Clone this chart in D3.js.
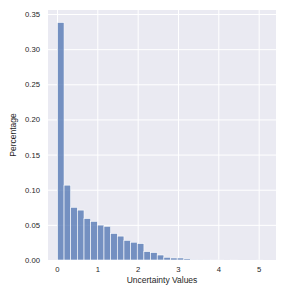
<!DOCTYPE html>
<html lang="en">
<head>
  <meta charset="UTF-8">
  <title></title>
  <style>
    body { margin: 0; background: #fff; }
    svg { display: block; font-family: "Liberation Sans", Arial, sans-serif; }
    .tick text { fill: #262626; font-size: 7.7px; }
    .grid line { stroke: #fff; stroke-width: 1; }
    .grid path { display: none; }
  </style>
</head>
<body>
<svg id="chart" width="286" height="286"></svg>
<script src="https://d3js.org/d3.v7.min.js"></script>
<script>
// histogram bin edges (Uncertainty Values)
var binEdges = [0.01, 0.175, 0.34, 0.505, 0.67, 0.835, 1.0, 1.165, 1.33, 1.495, 1.66,
  1.825, 1.99, 2.155, 2.32, 2.485, 2.65, 2.815, 2.98, 3.145, 3.31, 3.475, 3.64,
  3.805, 3.97, 4.135, 4.3, 4.465, 4.63, 4.795, 4.96, 5.125];
// share of values per bin
var percentages = [0.338, 0.1065, 0.075, 0.071, 0.059, 0.055, 0.0497, 0.048, 0.0378,
  0.034, 0.028, 0.0253, 0.0234, 0.012, 0.0106, 0.0071, 0.0039, 0.0029, 0.0029,
  0.0018, 0.0004, 0.0003, 0.0002, 0.0001, 0.0001, 0, 0.0001, 0, 0, 0, 0.0001];
var xTicks = [0, 1, 2, 3, 4, 5];
var yTicks = [0, 0.05, 0.1, 0.15, 0.2, 0.25, 0.3, 0.35];

var pLeft = 48, pRight = 276, pTop = 10, pBottom = 260;
var svg = d3.select('#chart');

var x = d3.scaleLinear().domain([-0.223, 5.43]).range([pLeft, pRight]);
var y = d3.scaleLinear().domain([0, 0.3557]).range([pBottom, pTop]);

svg.append('rect')
  .attr('x', pLeft).attr('y', pTop)
  .attr('width', pRight - pLeft).attr('height', pBottom - pTop)
  .attr('fill', '#eaeaf2');

svg.append('g').attr('class', 'grid')
  .attr('transform', 'translate(0,' + pTop + ')')
  .call(d3.axisBottom(x).tickValues(xTicks).tickSize(pBottom - pTop).tickFormat(''));
svg.append('g').attr('class', 'grid')
  .attr('transform', 'translate(' + pLeft + ',0)')
  .call(d3.axisRight(y).tickValues(yTicks).tickSize(pRight - pLeft).tickFormat(''));

var bins = percentages.map(function(v, i) {
  return { x0: binEdges[i], x1: binEdges[i + 1], v: v };
});

svg.append('g').selectAll('rect')
  .data(bins)
  .enter().append('rect')
  .attr('x', d => x(d.x0))
  .attr('width', d => x(d.x1) - x(d.x0))
  .attr('y', d => y(d.v))
  .attr('height', d => y(0) - y(d.v))
  .attr('fill', '#4c72b0')
  .attr('fill-opacity', 0.75)
  .attr('stroke', '#fff')
  .attr('stroke-width', 0.6);

var xAxis = svg.append('g')
  .attr('transform', 'translate(0,' + pBottom + ')')
  .call(d3.axisBottom(x).tickValues(xTicks).tickSize(0).tickPadding(7).tickFormat(d3.format('d')));
xAxis.select('.domain').remove();

var yAxis = svg.append('g')
  .attr('transform', 'translate(' + pLeft + ',0)')
  .call(d3.axisLeft(y).tickValues(yTicks).tickSize(0).tickPadding(8).tickFormat(d3.format('.2f')));
yAxis.select('.domain').remove();

svg.append('text')
  .attr('x', (pLeft + pRight) / 2).attr('y', 283)
  .attr('text-anchor', 'middle')
  .attr('font-size', '8.5px').attr('fill', '#262626')
  .text('Uncertainty Values');

svg.append('text')
  .attr('transform', 'translate(16,' + ((pTop + pBottom) / 2) + ') rotate(-90)')
  .attr('text-anchor', 'middle')
  .attr('font-size', '8.5px').attr('fill', '#262626')
  .text('Percentage');
</script>
</body>
</html>
